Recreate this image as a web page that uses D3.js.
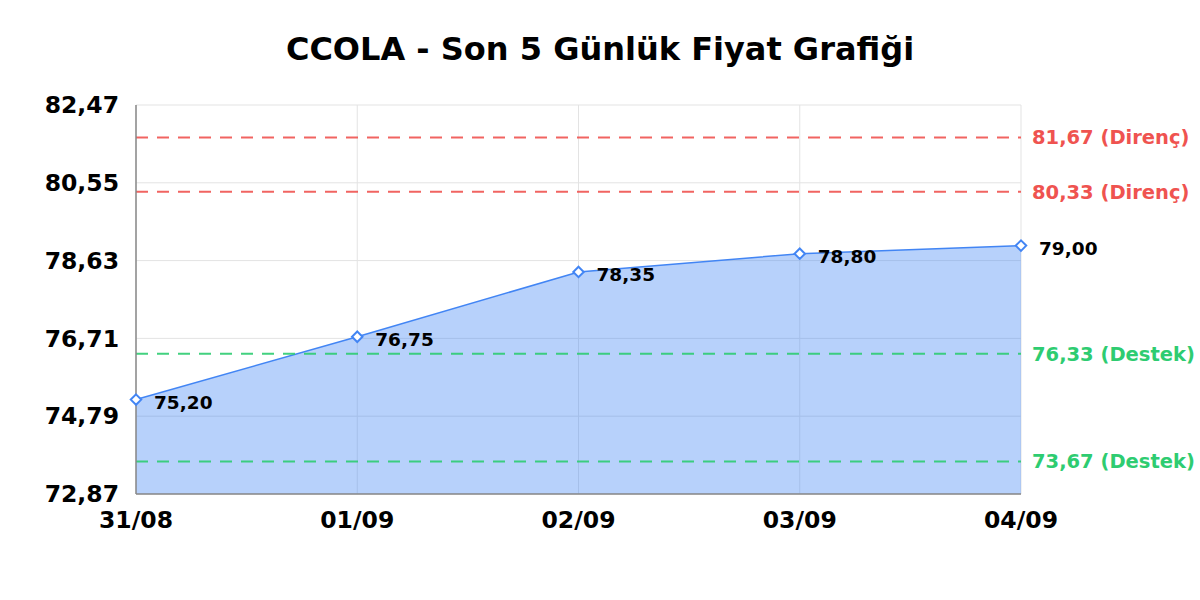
<!DOCTYPE html>
<html lang="tr">
<head>
    <meta charset="UTF-8">
    <title>CCOLA</title>
    <script src="https://d3js.org/d3.v7.min.js"></script>
    <style>
        body { margin: 0; background: #fff; }
        text { font-family: "DejaVu Sans", sans-serif; font-weight: bold; }
    </style>
</head>
<body>
    <script>
       // data
       var dates = ["31/08", "01/09", "02/09", "03/09", "04/09"];
       var prices = [75.20, 76.75, 78.35, 78.80, 79.00];
       var yTicks = [72.87, 74.79, 76.71, 78.63, 80.55, 82.47];
       var resistance = [81.67, 80.33];
       var support = [76.33, 73.67];

       var margin = {top: 105, right: 179, bottom: 106, left: 136},
           width = 1200 - margin.left - margin.right,
           height = 600 - margin.top - margin.bottom;

       var fmt = function(v) { return v.toFixed(2).replace(".", ","); };

       var x = d3.scalePoint().domain(dates).range([0, width]);
       var y = d3.scaleLinear().domain([72.87, 82.47]).range([height, 0]);

       var svg = d3.select("body").append("svg")
           .attr("width", 1200)
           .attr("height", 600);

       svg.append("text")
           .attr("x", 600)
           .attr("y", 60)
           .attr("text-anchor", "middle")
           .style("font-size", "32px")
           .text("CCOLA - Son 5 Günlük Fiyat Grafiği");

       var g = svg.append("g")
           .attr("transform", "translate(" + margin.left + "," + margin.top + ")");

       // grid
       g.append("g")
           .selectAll("line.h")
           .data(yTicks)
           .enter().append("line")
           .attr("x1", 0).attr("x2", width)
           .attr("y1", function(d) { return y(d); })
           .attr("y2", function(d) { return y(d); })
           .attr("stroke", "#e3e3e3");

       g.append("g")
           .selectAll("line.v")
           .data(dates)
           .enter().append("line")
           .attr("x1", function(d) { return x(d); })
           .attr("x2", function(d) { return x(d); })
           .attr("y1", 0).attr("y2", height)
           .attr("stroke", "#e3e3e3");

       // area + line
       var area = d3.area()
           .x(function(d, i) { return x(dates[i]); })
           .y0(height)
           .y1(function(d) { return y(d); });

       var line = d3.line()
           .x(function(d, i) { return x(dates[i]); })
           .y(function(d) { return y(d); });

       g.append("path")
           .datum(prices)
           .attr("d", area)
           .attr("fill", "#4285f4")
           .attr("fill-opacity", 0.38);

       g.append("path")
           .datum(prices)
           .attr("d", line)
           .attr("fill", "none")
           .attr("stroke", "#4285f4")
           .attr("stroke-width", 1.5);

       // reference lines
       var refs = resistance.map(function(v) { return {v: v, c: "#ef5350", t: "Direnç"}; })
           .concat(support.map(function(v) { return {v: v, c: "#2ecc71", t: "Destek"}; }));

       g.selectAll(".ref")
           .data(refs)
           .enter().append("line")
           .attr("x1", 0).attr("x2", width)
           .attr("y1", function(d) { return y(d.v); })
           .attr("y2", function(d) { return y(d.v); })
           .attr("stroke", function(d) { return d.c; })
           .attr("stroke-opacity", 0.9)
           .attr("stroke-width", 2)
           .attr("stroke-dasharray", "12,9");

       g.selectAll(".refLabel")
           .data(refs)
           .enter().append("text")
           .attr("x", width + 11)
           .attr("y", function(d) { return y(d.v); })
           .attr("dy", "0.35em")
           .attr("fill", function(d) { return d.c; })
           .style("font-size", "19.5px")
           .text(function(d) { return fmt(d.v) + " (" + d.t + ")"; });

       // axes
       g.append("line")
           .attr("x1", 0).attr("x2", 0).attr("y1", 0).attr("y2", height)
           .attr("stroke", "#888").attr("stroke-width", 1.5);
       g.append("line")
           .attr("x1", 0).attr("x2", width).attr("y1", height).attr("y2", height)
           .attr("stroke", "#888").attr("stroke-width", 1.5);

       g.selectAll(".yl")
           .data(yTicks)
           .enter().append("text")
           .attr("x", -17)
           .attr("y", function(d) { return y(d); })
           .attr("dy", "0.35em")
           .attr("text-anchor", "end")
           .style("font-size", "23.5px")
           .text(fmt);

       g.selectAll(".xl")
           .data(dates)
           .enter().append("text")
           .attr("x", function(d) { return x(d); })
           .attr("y", height + 34)
           .attr("text-anchor", "middle")
           .style("font-size", "23.5px")
           .text(function(d) { return d; });

       // points
       g.selectAll(".pt")
           .data(prices)
           .enter().append("path")
           .attr("d", d3.symbol().type(d3.symbolDiamond2).size(70))
           .attr("transform", function(d, i) { return "translate(" + x(dates[i]) + "," + y(d) + ")"; })
           .attr("fill", "#fff")
           .attr("stroke", "#4285f4")
           .attr("stroke-width", 2);

       g.selectAll(".pl")
           .data(prices)
           .enter().append("text")
           .attr("x", function(d, i) { return x(dates[i]) + 18; })
           .attr("y", function(d) { return y(d) + 3; })
           .attr("dy", "0.35em")
           .style("font-size", "18.5px")
           .text(fmt);
    </script>
</body>
</html>
